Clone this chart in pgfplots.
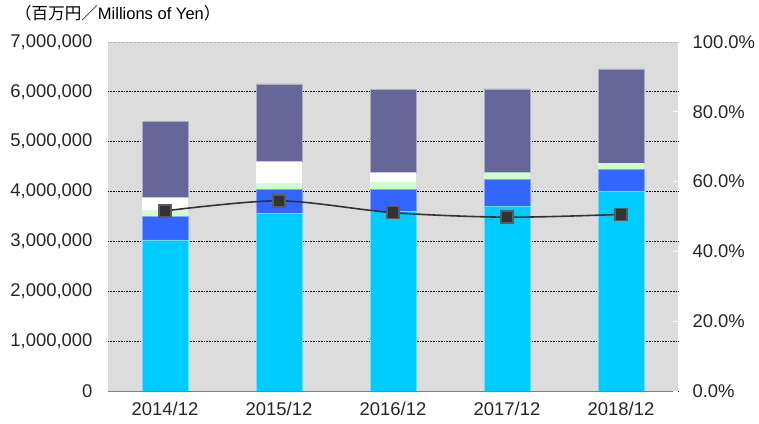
\documentclass[border=0pt]{standalone}
\usepackage{pgfplots}
\pgfplotsset{compat=1.18}
\usepackage{fontspec}
\setmainfont{Liberation Sans}
\newfontfamily\cjk{Noto Sans CJK JP}

\definecolor{bg}{RGB}{220,220,220}
\definecolor{cyanbar}{RGB}{0,204,255}
\definecolor{bluebar}{RGB}{51,102,255}
\definecolor{greenbar}{RGB}{204,255,204}
\definecolor{purplebar}{RGB}{102,102,153}
\definecolor{linec}{RGB}{51,51,51}

\begin{document}
\begin{tikzpicture}
\useasboundingbox (0,0) rectangle (759bp,424bp);
\node[anchor=west, inner sep=0pt, font=\fontsize{16.6}{19}\selectfont] at (15bp,410.5bp)
  {{\cjk （百万円／}Millions of Yen{\cjk ）}};

\begin{axis}[
  at={(108bp,33bp)}, anchor=south west,
  scale only axis, width=570bp, height=349bp,
  axis background/.style={fill=bg},
  ybar stacked, bar width=0.4,
  xmin=-0.5, xmax=4.5, ymin=0, ymax=7000000,
  xtick={0,1,2,3,4},
  xticklabels={2014/12,2015/12,2016/12,2017/12,2018/12},
  major x tick style={draw=none},
  extra x ticks={-0.5,0.5,1.5,2.5,3.5,4.5},
  extra x tick labels={},
  extra x tick style={xtick style={draw=gray, line width=0.8bp}, grid=none},
  xtick align=inside, major tick length=5bp,
  axis x line*=bottom, x axis line style={draw=gray, line width=0.8bp, -},
  axis y line*=left, y axis line style={draw=none},
  ytick={0,1000000,2000000,3000000,4000000,5000000,6000000},
  extra y ticks={7000000},
  extra y tick style={grid style={draw=gray!60, line width=0.8bp, dash pattern=on 0.8bp off 0.8bp}},
  ytick style={draw=none},
  ymajorgrids,
  grid style={black, line width=0.8bp, dash pattern=on 0.8bp off 0.8bp},
  scaled y ticks=false,
  tick label style={font=\fontsize{18.5}{21}\selectfont, text=black!85},
  yticklabel style={/pgf/number format/.cd, fixed, 1000 sep={,}, assume math mode=true},
  yticklabel shift=12bp,
  xticklabel shift=8bp,
]
\addplot[fill=cyanbar, draw=cyanbar!60!white, line width=0.6bp]
  coordinates {(0,3030000) (1,3560000) (2,3610000) (3,3700000) (4,4000000)};
\addplot[fill=bluebar, draw=bluebar!60!white, line width=0.6bp]
  coordinates {(0,470000) (1,480000) (2,440000) (3,550000) (4,450000)};
\addplot[fill=greenbar, draw=none]
  coordinates {(0,120000) (1,120000) (2,140000) (3,130000) (4,120000)};
\addplot[fill=white, draw=none]
  coordinates {(0,260000) (1,440000) (2,190000) (3,0) (4,0)};
\addplot[fill=purplebar, draw=purplebar!55!white, line width=0.6bp]
  coordinates {(0,1520000) (1,1560000) (2,1670000) (3,1680000) (4,1890000)};
\end{axis}

\begin{axis}[
  at={(108bp,33bp)}, anchor=south west,
  scale only axis, width=570bp, height=349bp,
  xmin=-0.5, xmax=4.5, ymin=0, ymax=100,
  axis x line=none,
  axis y line*=right, y axis line style={draw=none},
  ytick={0,20,40,60,80,100},
  yticklabel={\pgfmathprintnumber[fixed,fixed zerofill,precision=1,assume math mode=true]{\tick}\%},
  ytick style={draw=white, line width=1bp},
  ytick align=inside, major tick length=5bp,
  tick label style={font=\fontsize{18.5}{21}\selectfont, text=black!85},
  yticklabel shift=11bp,
]
\addplot[linec, line width=1.6bp, smooth, mark=square*, mark size=6bp,
  mark options={fill=linec, draw=linec!80!white, solid}]
  coordinates {(0,51.6) (1,54.5) (2,51.1) (3,49.8) (4,50.6)};
\end{axis}
\end{tikzpicture}
\end{document}
